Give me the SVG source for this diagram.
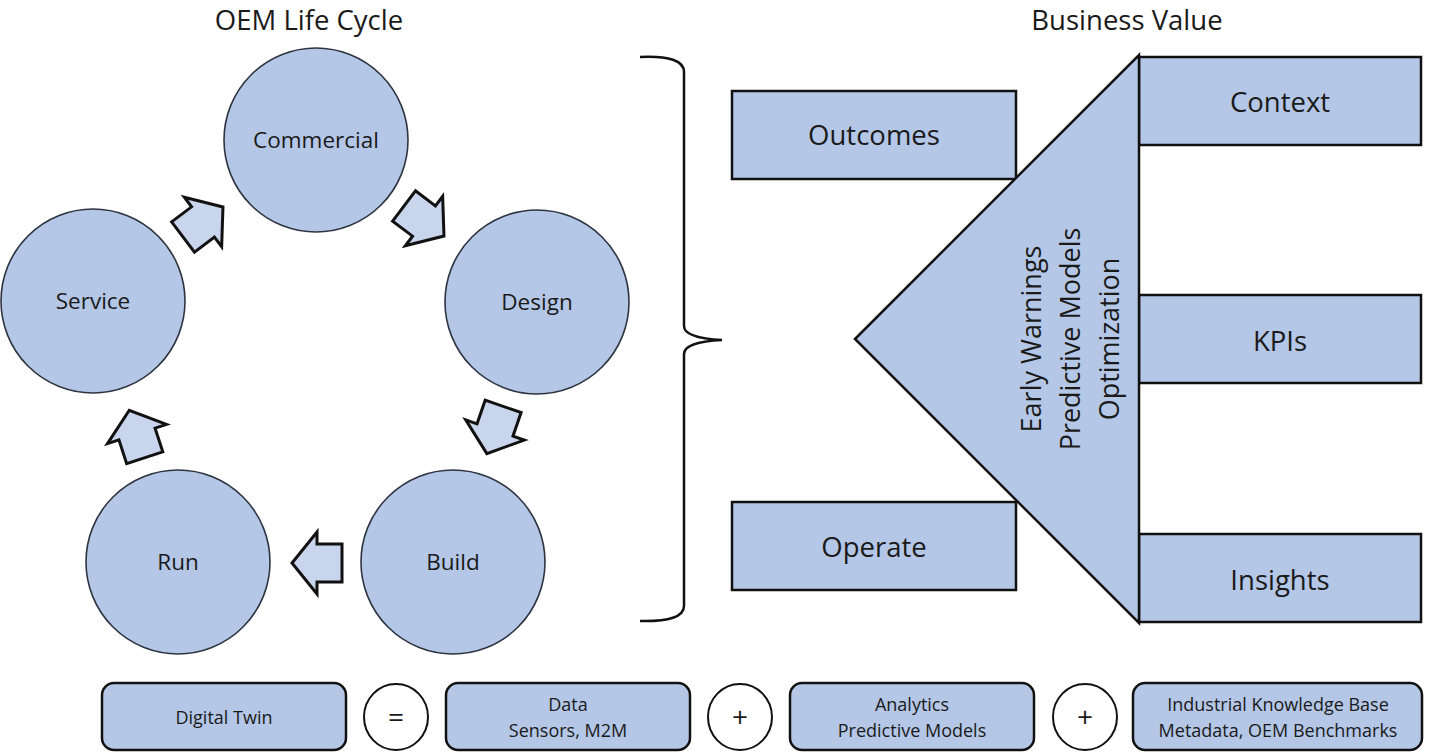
<svg xmlns="http://www.w3.org/2000/svg" width="1429" height="754" viewBox="0 0 1429 754">
<style>
text{font-family:"Open Sans","Noto Sans","Liberation Sans",sans-serif;fill:#1a1a1a;text-anchor:middle;}
.title{font-size:27.5px;}
.circ{fill:#b4c7e7;stroke:#2e3440;stroke-width:1.6;}
.ct{font-size:22.5px;}
.box{fill:#b4c7e7;stroke:#111;stroke-width:2.5;}
.bt{font-size:27.5px;}
.tt{font-size:27px;}
.rbox{fill:#b4c7e7;stroke:#111;stroke-width:2.5;}
.st{font-size:18px;}
.op{fill:#fff;stroke:#111;stroke-width:2;}
.opt{font-size:28px;}
.arr{fill:#c9d5ed;stroke:#111;stroke-width:3;stroke-linejoin:miter;}
.tri{fill:#b4c7e7;stroke:#111;stroke-width:2.5;}
</style>
<defs>
<polygon id="blk" points="-25,-19 0,-19 0,-31 25,0 0,31 0,19 -25,19"/>
</defs>
<rect width="1429" height="754" fill="#fff"/>
<text class="title" x="309" y="30">OEM Life Cycle</text>
<text class="title" x="1127" y="30">Business Value</text>

<g id="connectors">
<use href="#blk" class="arr" transform="translate(203,222) rotate(-37)"/>
<use href="#blk" class="arr" transform="translate(424,221) rotate(37)"/>
<use href="#blk" class="arr" transform="translate(495,430) rotate(109)"/>
<use href="#blk" class="arr" transform="translate(317,563) rotate(180)"/>
<use href="#blk" class="arr" transform="translate(137,434) rotate(-108)"/>
<path d="M640 57 Q684 55 684 72 L684 326 Q684 338 722 340 Q684 342 684 354 L684 606 Q684 622 640 621" fill="none" stroke="#111" stroke-width="2.5"/>
</g>

<g id="commercial"><circle class="circ" cx="316" cy="140" r="92"/><text class="ct" x="316" y="148">Commercial</text></g>
<g id="design"><circle class="circ" cx="537" cy="302" r="92"/><text class="ct" x="537" y="310">Design</text></g>
<g id="build"><circle class="circ" cx="453" cy="562" r="92"/><text class="ct" x="453" y="570">Build</text></g>
<g id="run"><circle class="circ" cx="178" cy="562" r="92"/><text class="ct" x="178" y="570">Run</text></g>
<g id="service"><circle class="circ" cx="93" cy="301" r="92"/><text class="ct" x="93" y="309">Service</text></g>

<g id="outcomes"><rect class="box" x="732" y="91" width="284" height="88"/><text class="bt" x="874" y="145">Outcomes</text></g>
<g id="operate"><rect class="box" x="732" y="502" width="284" height="88"/><text class="bt" x="874" y="557">Operate</text></g>
<g id="context"><rect class="box" x="1139" y="57" width="282" height="88"/><text class="bt" x="1280" y="112">Context</text></g>
<g id="kpis"><rect class="box" x="1139" y="295" width="282" height="88"/><text class="bt" x="1280" y="351">KPIs</text></g>
<g id="insights"><rect class="box" x="1139" y="534" width="282" height="88"/><text class="bt" x="1280" y="590">Insights</text></g>

<g id="analytics-triangle">
<polygon class="tri" points="855,339 1139,55 1139,623"/>
<text class="tt" transform="translate(1041,339) rotate(-90)">Early Warnings</text>
<text class="tt" transform="translate(1080,339) rotate(-90)">Predictive Models</text>
<text class="tt" transform="translate(1119,339) rotate(-90)">Optimization</text>
</g>

<g id="digital-twin"><rect class="rbox" x="102" y="683" width="244" height="67" rx="12"/><text class="st" x="224" y="724">Digital Twin</text></g>
<g id="equals"><ellipse class="op" cx="396" cy="717" rx="32" ry="33"/><text class="opt" x="396" y="727">=</text></g>
<g id="data"><rect class="rbox" x="446" y="683" width="244" height="67" rx="12"/><text class="st" x="568" y="711">Data</text><text class="st" x="568" y="737">Sensors, M2M</text></g>
<g id="plus1"><ellipse class="op" cx="740" cy="717" rx="32" ry="33"/><text class="opt" x="740" y="727">+</text></g>
<g id="analytics"><rect class="rbox" x="790" y="683" width="244" height="67" rx="12"/><text class="st" x="912" y="711">Analytics</text><text class="st" x="912" y="737">Predictive Models</text></g>
<g id="plus2"><ellipse class="op" cx="1085" cy="717" rx="32" ry="33"/><text class="opt" x="1085" y="727">+</text></g>
<g id="knowledge"><rect class="rbox" x="1133" y="683" width="289" height="67" rx="12"/><text class="st" x="1278" y="711">Industrial Knowledge Base</text><text class="st" x="1278" y="737">Metadata, OEM Benchmarks</text></g>
</svg>
